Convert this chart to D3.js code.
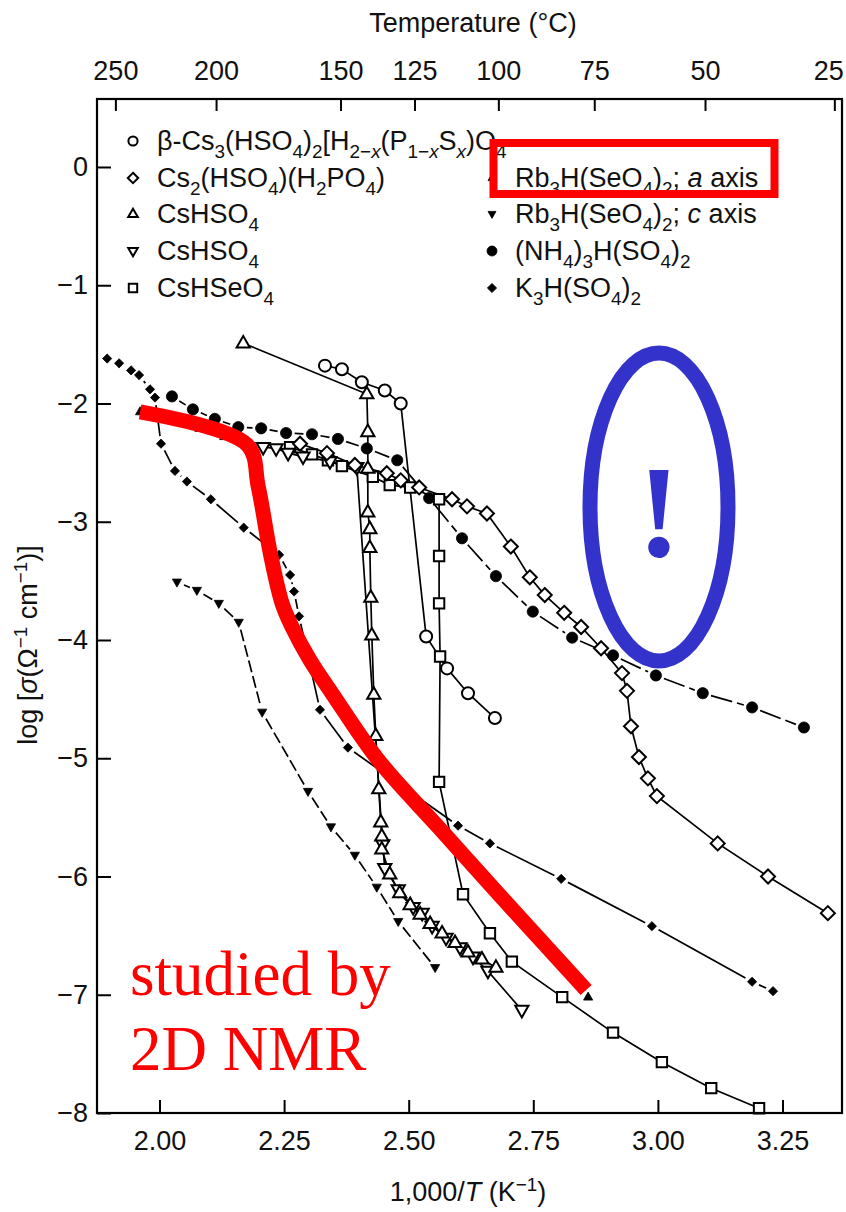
<!DOCTYPE html>
<html><head><meta charset="utf-8">
<script src="https://cdn.jsdelivr.net/npm/d3@7"></script>
<style>
body{margin:0;background:#fff}
svg{display:block}
text{font-family:"Liberation Sans",Arial,Helvetica,sans-serif;fill:#111}
text.serif{font-family:"Liberation Serif","Times New Roman",serif}
</style>
</head><body>
<svg id="c" width="846" height="1212"></svg>
<script>
// ---------- data ----------
const xTicks = [2.00, 2.25, 2.50, 2.75, 3.00, 3.25];
const xTickLabels = ["2.00", "2.25", "2.50", "2.75", "3.00", "3.25"];
const yTicks = [0, -1, -2, -3, -4, -5, -6, -7, -8];
const tempTicks = [250, 200, 150, 125, 100, 75, 50, 25];

const betaCs3 = [[2.332,-1.68],[2.366,-1.71],[2.406,-1.82],[2.452,-1.89],[2.484,-2.00],[2.535,-3.97],[2.577,-4.24],[2.619,-4.45],[2.673,-4.66]];
const cs2HSO4H2PO4 = [[2.282,-2.34],[2.336,-2.42],[2.392,-2.52],[2.456,-2.59],[2.484,-2.65],[2.521,-2.71],[2.587,-2.81],[2.617,-2.87],[2.657,-2.93],[2.705,-3.21],[2.743,-3.47],[2.773,-3.62],[2.812,-3.77],[2.846,-3.89],[2.886,-4.07],[2.928,-4.28],[2.938,-4.43],[2.946,-4.73],[2.962,-4.99],[2.980,-5.17],[2.998,-5.32],[3.120,-5.72],[3.221,-6.00],[3.341,-6.31]];
const csHSO4Up = [[2.168,-1.49],[2.416,-1.92],[2.418,-2.24],[2.418,-2.55],[2.418,-2.92],[2.422,-3.06],[2.422,-3.22],[2.424,-3.64],[2.426,-3.96],[2.430,-4.46],[2.434,-4.81],[2.440,-5.26],[2.444,-5.54],[2.446,-5.66],[2.446,-5.77],[2.462,-5.98],[2.482,-6.14],[2.503,-6.24],[2.523,-6.32],[2.543,-6.40],[2.567,-6.48],[2.593,-6.56],[2.619,-6.64],[2.647,-6.70],[2.675,-6.77]];
const csHSO4Down = [[2.208,-2.37],[2.234,-2.38],[2.258,-2.42],[2.288,-2.45],[2.342,-2.49],[2.396,-2.54],[2.448,-5.73],[2.452,-5.93],[2.479,-6.11],[2.509,-6.26],[2.527,-6.31],[2.547,-6.42],[2.575,-6.52],[2.603,-6.60],[2.629,-6.68],[2.659,-6.80],[2.727,-7.13]];
const csHSeO4 = [[2.262,-2.37],[2.306,-2.43],[2.338,-2.48],[2.366,-2.53],[2.428,-2.62],[2.462,-2.69],[2.503,-2.71],[2.561,-2.81],[2.561,-3.29],[2.561,-3.69],[2.563,-4.14],[2.561,-5.20],[2.609,-6.15],[2.663,-6.48],[2.707,-6.72],[2.808,-7.02],[2.910,-7.32],[3.008,-7.57],[3.107,-7.79],[3.203,-7.96]];
const rbA = [[1.961,-2.07],[2.020,-2.14],[2.080,-2.21],[2.130,-2.28],[2.176,-2.35],[2.198,-2.70],[2.222,-3.26],[2.246,-3.69],[2.266,-3.89],[2.302,-4.17],[2.346,-4.45],[2.438,-5.01],[2.559,-5.58],[2.683,-6.16],[2.770,-6.56],[2.860,-7.02]];
const rbC = [[2.035,-3.51],[2.075,-3.58],[2.119,-3.69],[2.159,-3.85],[2.206,-4.61],[2.298,-5.28],[2.344,-5.58],[2.392,-5.82],[2.436,-6.09],[2.479,-6.38],[2.553,-6.77]];
const nh4 = [[2.025,-1.94],[2.067,-2.05],[2.111,-2.13],[2.158,-2.20],[2.204,-2.21],[2.254,-2.25],[2.306,-2.26],[2.358,-2.30],[2.416,-2.38],[2.477,-2.48],[2.541,-2.80],[2.607,-3.14],[2.675,-3.46],[2.749,-3.76],[2.828,-3.98],[2.910,-4.13],[2.996,-4.30],[3.090,-4.45],[3.189,-4.57],[3.293,-4.74]];
const k3h = [[1.895,-1.62],[1.919,-1.66],[1.943,-1.72],[1.959,-1.76],[1.981,-1.88],[1.991,-1.95],[2.003,-2.34],[2.031,-2.57],[2.055,-2.66],[2.103,-2.81],[2.169,-3.05],[2.240,-3.28],[2.262,-3.45],[2.270,-3.59],[2.280,-3.80],[2.322,-4.59],[2.378,-4.91],[2.599,-5.57],[2.663,-5.72],[2.806,-6.02],[2.988,-6.42],[3.189,-6.89],[3.231,-6.97]];

// annotation: thick red curve (data space)
const nmrPath = [[1.961,-2.07],[2.176,-2.35],[2.198,-2.70],[2.222,-3.26],[2.246,-3.69],[2.266,-3.89],[2.302,-4.17],[2.346,-4.45],[2.438,-5.01],[2.559,-5.58],[2.683,-6.16],[2.856,-6.96]];

// legend labels: [text, style] pieces
const legLeft = [
  {m:"circle", parts:[["β-Cs"],["3","sub"],["(HSO"],["4","sub"],[")"],["2","sub"],["[H"],["2−","sub"],["x","subi"],["(P"],["1−","sub"],["x","subi"],["S"],["x","subi"],[")O"],["4","sub"]]},
  {m:"diamond", parts:[["Cs"],["2","sub"],["(HSO"],["4","sub"],[")(H"],["2","sub"],["PO"],["4","sub"],[")"]]},
  {m:"triUp", parts:[["CsHSO"],["4","sub"]]},
  {m:"triDown", parts:[["CsHSO"],["4","sub"]]},
  {m:"square", parts:[["CsHSeO"],["4","sub"]]}
];
const legRight = [
  {m:"triUpF", parts:[["Rb"],["3","sub"],["H(SeO"],["4","sub"],[")"],["2","sub"],["; "],["a","i"],[" axis"]]},
  {m:"triDownF", parts:[["Rb"],["3","sub"],["H(SeO"],["4","sub"],[")"],["2","sub"],["; "],["c","i"],[" axis"]]},
  {m:"circleF", parts:[["(NH"],["4","sub"],[")"],["3","sub"],["H(SO"],["4","sub"],[")"],["2","sub"]]},
  {m:"diamondF", parts:[["K"],["3","sub"],["H(SO"],["4","sub"],[")"],["2","sub"]]}
];

// ---------- scales ----------
const x = d3.scaleLinear().domain([1.8746, 3.3694]).range([97, 842]);
const y = d3.scaleLinear().domain([0.575, -8]).range([99, 1113]);
const FS = 27;

const svg = d3.select("#c");

function mpath(type, s) {
  switch (type) {
    case "circle": return `M${-s},0A${s},${s} 0 1,0 ${s},0A${s},${s} 0 1,0 ${-s},0Z`;
    case "square": return `M${-s},${-s}H${s}V${s}H${-s}Z`;
    case "diamond": return `M0,${-s}L${s},0L0,${s}L${-s},0Z`;
    case "triUp": return `M0,${-s*1.1}L${s},${s*0.65}L${-s},${s*0.65}Z`;
    case "triDown": return `M0,${s*1.1}L${s},${-s*0.65}L${-s},${-s*0.65}Z`;
  }
}

function rich(t, parts) {
  let off = 0;
  parts.forEach(([str, st]) => {
    st = st || "";
    let target = 0, size = null, italic = false;
    if (st.startsWith("sub")) { target = 0.3 * FS; size = 0.7 * FS; }
    if (st.startsWith("sup")) { target = -0.38 * FS; size = 0.7 * FS; }
    if (st.endsWith("i")) italic = true;
    const ts = t.append("tspan").text(str).attr("dy", target - off);
    off = target;
    if (size) ts.attr("font-size", size);
    if (italic) ts.attr("font-style", "italic");
  });
}

// ---------- series ----------
const series = [
  {data: k3h, m:"diamond", s:4.6, fill:"#000", gap:true},
  {data: rbC, m:"triDown", s:4.6, fill:"#000", gap:true, dash:"12,4"},
  {data: rbA, m:"triUp", s:4.6, fill:"#000", gap:true},
  {data: nh4, m:"circle", s:5.6, fill:"#000", gap:true, dash:"22,5"},
  {data: csHSeO4, m:"square", s:5.2, fill:"#fff"},
  {data: csHSO4Down, m:"triDown", s:6.6, fill:"#fff"},
  {data: csHSO4Up, m:"triUp", s:6.6, fill:"#fff"},
  {data: cs2HSO4H2PO4, m:"diamond", s:7, fill:"#fff"},
  {data: betaCs3, m:"circle", s:6, fill:"#fff"}
];

const plot = svg.append("g");
const line = d3.line().x(d => x(d[0])).y(d => y(d[1]));

series.forEach(sr => {
  if (sr.gap) {
    const g = sr.s + 3;
    for (let i = 0; i < sr.data.length - 1; i++) {
      const p = [x(sr.data[i][0]), y(sr.data[i][1])];
      const q = [x(sr.data[i+1][0]), y(sr.data[i+1][1])];
      const dx = q[0]-p[0], dy = q[1]-p[1], L = Math.hypot(dx, dy);
      if (L <= 2*g) continue;
      const ux = dx/L, uy = dy/L;
      plot.append("line")
        .attr("x1", p[0]+ux*g).attr("y1", p[1]+uy*g)
        .attr("x2", q[0]-ux*g).attr("y2", q[1]-uy*g)
        .attr("stroke", "#000").attr("stroke-width", 1.7)
        .attr("stroke-dasharray", sr.dash || null);
    }
  } else {
    plot.append("path").attr("d", line(sr.data))
      .attr("fill", "none").attr("stroke", "#000").attr("stroke-width", 1.7);
  }
});
series.forEach(sr => {
  plot.append("g").selectAll("path").data(sr.data).join("path")
    .attr("transform", d => `translate(${x(d[0])},${y(d[1])})`)
    .attr("d", mpath(sr.m, sr.s))
    .attr("fill", sr.fill)
    .attr("stroke", "#000")
    .attr("stroke-width", sr.fill === "#fff" ? 2 : 0.8)
    .attr("stroke-linejoin", "miter");
});

// ---------- axes ----------
const fmtY = d => d === 0 ? "0" : "−" + Math.abs(d);
function styleAxis(g) {
  g.select(".domain").remove();
  g.selectAll(".tick line").attr("stroke", "#000").attr("stroke-width", 2);
  g.selectAll(".tick text").attr("font-size", FS).attr("fill", "#111")
    .attr("font-family", null);
}
svg.append("g").attr("transform", "translate(0,1113)")
  .call(d3.axisBottom(x).tickValues(xTicks).tickFormat((d, i) => xTickLabels[i])
    .tickSizeInner(-13).tickSizeOuter(0).tickPadding(18))
  .call(styleAxis);
const topAx = svg.append("g").attr("transform", "translate(0,99)")
  .call(d3.axisTop(x).tickValues(tempTicks.map(t => 1000 / (t + 273.15)))
    .tickFormat((d, i) => String(tempTicks[i]))
    .tickSizeInner(-12).tickSizeOuter(0).tickPadding(19))
  .call(styleAxis);
topAx.selectAll(".tick text").filter((d, i) => i === tempTicks.length - 1).attr("dx", -6);
svg.append("g").attr("transform", "translate(97,0)")
  .call(d3.axisLeft(y).tickValues(yTicks).tickFormat(fmtY)
    .tickSizeInner(-14).tickSizeOuter(0).tickPadding(9))
  .call(styleAxis);

svg.append("rect")
  .attr("x", x.range()[0]).attr("y", y.range()[0])
  .attr("width", x.range()[1] - x.range()[0]).attr("height", y.range()[1] - y.range()[0])
  .attr("fill", "none").attr("stroke", "#000").attr("stroke-width", 2.2);

// titles
svg.append("text").attr("x", 473).attr("y", 32).attr("text-anchor", "middle")
  .attr("font-size", FS).text("Temperature (°C)");
const xt = svg.append("text").attr("x", 468).attr("y", 1201).attr("text-anchor", "middle").attr("font-size", FS);
rich(xt, [["1,000/"],["T","i"],[" (K"],["−1","sup"],[")"]]);
const yt = svg.append("text").attr("transform", "translate(37,645) rotate(-90)")
  .attr("text-anchor", "middle").attr("font-size", FS);
rich(yt, [["log ["],["σ","i"],["(Ω"],["−1","sup"],[" cm"],["−1","sup"],[")]"]]);

// ---------- legend ----------
const legRowsL = [141, 178, 214, 251, 288];
const legRowsR = [178, 214, 251, 288];
const legMarkerMap = {
  circle:["circle",4.6,"#fff"], diamond:["diamond",5.2,"#fff"], triUp:["triUp",4.8,"#fff"],
  triDown:["triDown",4.8,"#fff"], square:["square",4.2,"#fff"],
  triUpF:["triUp",4,"#000"], triDownF:["triDown",4,"#000"], circleF:["circle",5,"#000"], diamondF:["diamond",4.6,"#000"]
};
function legendCol(items, rows, mx, tx) {
  items.forEach((it, i) => {
    const [t, s, f] = legMarkerMap[it.m];
    svg.append("path").attr("transform", `translate(${mx},${rows[i]})`).attr("d", mpath(t, s))
      .attr("fill", f).attr("stroke", "#000").attr("stroke-width", f === "#fff" ? 2 : 0.8);
    const tt = svg.append("text").attr("x", tx).attr("y", rows[i] + 9).attr("font-size", FS);
    rich(tt, it.parts);
  });
}
legendCol(legLeft, legRowsL, 133, 157);
legendCol(legRight, legRowsR, 492, 515);

// ---------- annotations ----------
svg.append("path")
  .attr("d", d3.line().x(d => x(d[0])).y(d => y(d[1])).curve(d3.curveCatmullRom.alpha(0.5))(nmrPath))
  .attr("fill", "none").attr("stroke", "#ff0000").attr("stroke-width", 15)
  .attr("stroke-linejoin", "round").attr("stroke-linecap", "butt");

svg.append("rect").attr("x", 493.5).attr("y", 143).attr("width", 281).attr("height", 51)
  .attr("fill", "none").attr("stroke", "#ff0000").attr("stroke-width", 8);

svg.append("ellipse").attr("cx", 659).attr("cy", 507).attr("rx", 69).attr("ry", 154)
  .attr("fill", "none").attr("stroke", "#3333cc").attr("stroke-width", 15);
svg.append("text").attr("class", "serif").attr("x", 659).attr("y", 556).attr("text-anchor", "middle")
  .attr("font-weight", "bold").attr("font-size", 132).style("fill", "#3333cc").text("!");

svg.append("text").attr("class", "serif").attr("x", 130).attr("y", 995)
  .attr("font-size", 63).style("fill", "#ff0000").text("studied by");
svg.append("text").attr("class", "serif").attr("x", 130).attr("y", 1070)
  .attr("font-size", 63).style("fill", "#ff0000").text("2D NMR");
</script>
</body></html>
